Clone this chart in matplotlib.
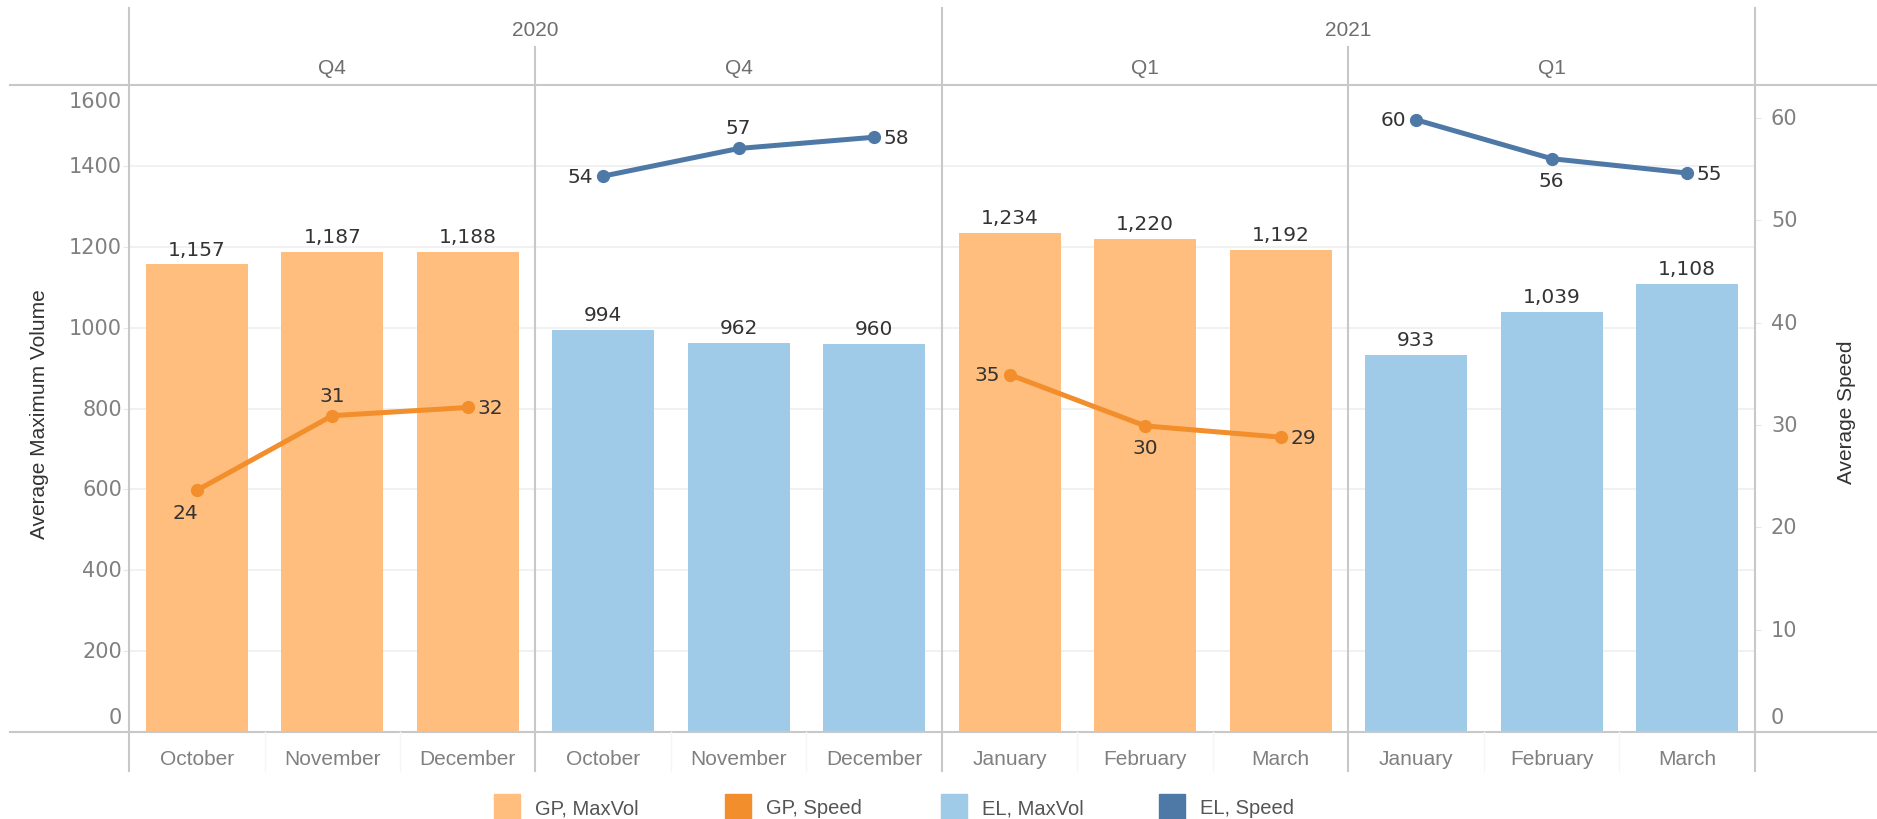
import matplotlib
matplotlib.use('Agg')
import matplotlib.pyplot as plt
from matplotlib.lines import Line2D
from matplotlib.patches import Rectangle
from matplotlib.transforms import blended_transform_factory, offset_copy

# ---------------- data ----------------
months = ['October', 'November', 'December', 'October', 'November', 'December',
          'January', 'February', 'March', 'January', 'February', 'March']
panel_series = ['GP', 'EL', 'GP', 'EL']
quarters = ['Q4', 'Q4', 'Q1', 'Q1']
years = ['2020', '2021']
max_vol = [1157, 1187, 1188, 994, 962, 960, 1234, 1220, 1192, 933, 1039, 1108]
speed = [23.6, 30.9, 31.7, 54.3, 57.0, 58.1, 34.9, 29.9, 28.8, 59.8, 56.0, 54.6]
vol_ticks = [0, 200, 400, 600, 800, 1000, 1200, 1400, 1600]
speed_ticks = [0, 10, 20, 30, 40, 50, 60]
legend_labels = ['GP, MaxVol', 'GP, Speed', 'EL, MaxVol', 'EL, Speed']

# ---------------- style ----------------
bar_colors = {'GP': '#FFBE7D', 'EL': '#A0CBE8'}
line_colors = {'GP': '#F28E2B', 'EL': '#4E79A7'}
legend_colors = ['#FFBE7D', '#F28E2B', '#A0CBE8', '#4E79A7']
label_pos = ['below', 'above', 'right', 'left', 'above', 'right',
             'left', 'below', 'right', 'left', 'below', 'right']
TXT = ['Liberation Sans', 'DejaVu Sans']
NUM = ['DejaVu Sans']
frame_c = '#C8C8C8'
tick_c = '#808080'
head_c = '#6E6E6E'

W, H = 1877, 820
fig = plt.figure(figsize=(W / 100, H / 100), dpi=100)


def fx(px):
    return px / W


def fy(py):
    return 1 - py / H


L, R, T, B = 129, 1755, 86, 733
ax = fig.add_axes([fx(L), fy(B), fx(R) - fx(L), fy(T) - fy(B)])
ax2 = ax.twinx()

n = len(months)
xs = [i + 0.5 for i in range(n)]
ax.set_xlim(0, n)
ax.set_ylim(0, 1600)
ax2.set_ylim(0, 63.2)

for a in (ax, ax2):
    for s in a.spines.values():
        s.set_visible(False)

# bars
for i, v in enumerate(max_vol):
    grp = panel_series[i // 3]
    ax.bar(xs[i], v, width=0.75, color=bar_colors[grp], zorder=2)
    ax.annotate(f'{v:,}', (xs[i], v), xytext=(0, 4), textcoords='offset points',
                ha='center', va='bottom', fontsize=14.5, color='#333333', family=NUM)

# lines per panel
offs = {'below': ((0, -9), 'center', 'top'), 'above': ((0, 8), 'center', 'bottom'),
        'left': ((-7, 0), 'right', 'center'), 'right': ((7, 0), 'left', 'center')}
for p, grp in enumerate(panel_series):
    idx = list(range(p * 3, p * 3 + 3))
    ax2.plot([xs[i] for i in idx], [speed[i] for i in idx], color=line_colors[grp],
             lw=3.6, marker='o', ms=8.5, zorder=3, solid_capstyle='round')
    for i in idx:
        (dx, dy), ha, va = offs[label_pos[i]]
        if i == 0:
            dx = -8
        ax2.annotate(f'{round(speed[i])}', (xs[i], speed[i]), xytext=(dx, dy),
                     textcoords='offset points', ha=ha, va=va, fontsize=14.5,
                     color='#333333', family=NUM)

# left axis ticks (labels drawn manually so the end labels sit inside the frame)
ax.set_yticks(vol_ticks)
ax.set_yticklabels([])
ax.tick_params(axis='y', length=4, color='#E8E8E8')
ax.yaxis.grid(True, color='#EFEFEF', lw=1.2)
ax.set_axisbelow(True)
ytr = ax.get_yaxis_transform()
for v in vol_ticks:
    dy = 0
    if v == vol_ticks[0]:
        dy = 15
    elif v == vol_ticks[-1]:
        dy = -16
    tr = offset_copy(ytr, fig=fig, x=-7, y=dy, units='dots')
    ax.text(0, v, f'{v}', transform=tr, ha='right', va='center', fontsize=15,
            color=tick_c, family=NUM)

ax2.set_yticks(speed_ticks)
ax2.set_yticklabels([])
ax2.tick_params(axis='y', length=4, color='#E8E8E8')
ytr2 = ax2.get_yaxis_transform()
for v in speed_ticks:
    dy = 15 if v == speed_ticks[0] else 0
    tr = offset_copy(ytr2, fig=fig, x=16, y=dy, units='dots')
    ax2.text(1, v, f'{v}', transform=tr, ha='left', va='center', fontsize=15,
             color=tick_c, family=NUM)

ax.set_xticks(xs)
ax.set_xticklabels(months, fontsize=15, color=tick_c, family=TXT)
ax.tick_params(axis='x', length=0, pad=12)

# frame lines
def fline(x0, y0, x1, y1, c=frame_c, lw=1.5):
    fig.add_artist(Line2D([fx(x0), fx(x1)], [fy(y0), fy(y1)], color=c, lw=lw,
                          transform=fig.transFigure))

fline(10, T, W, T)
fline(10, B, W, B)
bt = blended_transform_factory(ax.transData, fig.transFigure)
for xv, top in [(0, 9), (6, 9), (12, 9), (3, 48), (9, 48)]:
    fig.add_artist(Line2D([xv, xv], [fy(top), fy(772)], color=frame_c, lw=1.5,
                          transform=bt))
for xv in [1, 2, 4, 5, 7, 8, 10, 11]:
    fig.add_artist(Line2D([xv, xv], [fy(B), fy(772)], color='#F6F6F6', lw=1.0,
                          transform=bt))

# headers
for k, yr in enumerate(years):
    fig.text(3 + 6 * k, fy(30), yr, transform=bt, ha='center', va='center',
             fontsize=15, color=head_c, family=TXT)
for k, q in enumerate(quarters):
    fig.text(1.5 + 3 * k, fy(68), q, transform=bt, ha='center', va='center',
             fontsize=15, color=head_c, family=TXT)

# axis titles
fig.text(fx(40), fy(414), 'Average Maximum Volume', rotation=90, ha='center',
         va='center', fontsize=15, color='#333333', family=TXT)
fig.text(fx(1847), fy(412), 'Average Speed', rotation=90, ha='center',
         va='center', fontsize=15, color='#333333', family=TXT)

# legend
leg_x = [494, 725, 941, 1159]
for xpx, lab, c in zip(leg_x, legend_labels, legend_colors):
    fig.add_artist(Rectangle((fx(xpx), fy(822)), fx(26), 27 / H, color=c,
                             transform=fig.transFigure))
    fig.text(fx(xpx + 41), fy(809), lab, ha='left', va='center', fontsize=14.5,
             color='#555555', family=TXT)

fig.savefig('out.png', dpi=100)
